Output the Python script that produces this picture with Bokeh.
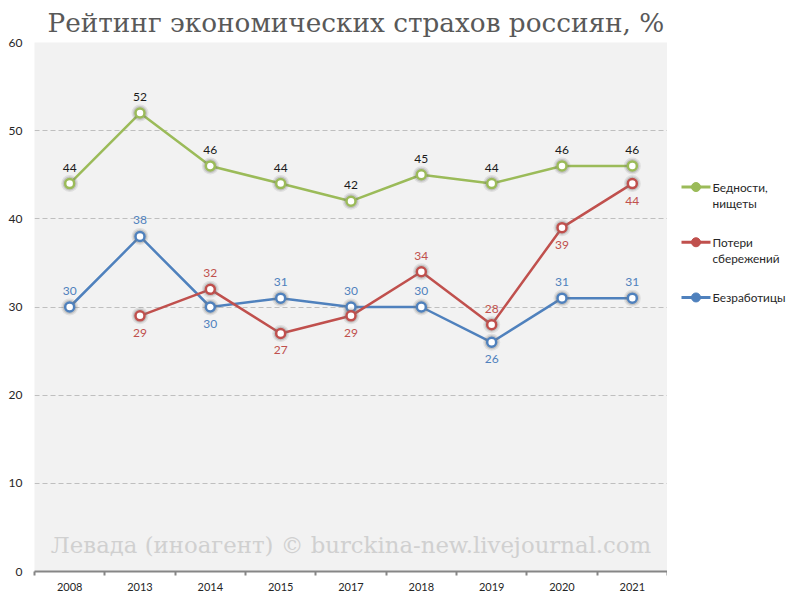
import numpy as np
from bokeh.plotting import figure
from bokeh.models import Range1d, FixedTicker, Label, ColumnDataSource, LabelSet, CustomJSTickFormatter
from bokeh.layouts import row
from bokeh.embed import file_html
from bokeh.resources import INLINE
from bokeh.core.properties import value

# ---- data ----
years = ["2008", "2013", "2014", "2015", "2017", "2018", "2019", "2020", "2021"]
poverty = [44, 52, 46, 44, 42, 45, 44, 46, 46]
savings = [None, 29, 32, 27, 29, 34, 28, 39, 44]
unemployment = [30, 38, 30, 31, 30, 30, 26, 31, 31]
series_names = ["Бедности,\nнищеты", "Потери\nсбережений", "Безработицы"]
y_ticks = [0, 10, 20, 30, 40, 50, 60]
title_text = "Рейтинг экономических страхов россиян, %"
watermark_text = "Левада (иноагент) © burckina-new.livejournal.com"

# where each value label sits relative to its point
poverty_side = ["above"] * 9
savings_side = [None, "below", "above", "below", "below", "above", "above", "below", "below"]
unemployment_side = ["above", "above", "below", "above", "above", "above", "below", "above", "above"]

colors = ["#9bbb59", "#c0504d", "#4f81bd"]
label_colors = ["#1a1a1a", "#c0504d", "#4f81bd"]

n = len(years)
xs = np.arange(n) + 0.5

H = 593
p = figure(width=667, height=H, x_range=Range1d(0, n), y_range=Range1d(0, 60),
           output_backend="svg", toolbar_location=None,
           min_border_left=34, min_border_right=0, min_border_bottom=0, min_border_top=0)
p.background_fill_color = "#f2f2f2"
p.border_fill_color = "white"
p.outline_line_color = None

p.title.text = title_text
p.title.text_font = "DejaVu Serif"
p.title.text_font_size = "26.3px"
p.title.text_font_style = "normal"
p.title.text_color = "#595959"
p.title.align = "left"
p.title.offset = 13
p.title.standoff = 10

# x axis
xa = p.xaxis[0]
xa.ticker = FixedTicker(ticks=list(xs), minor_ticks=list(range(n + 1)))
xa.formatter = CustomJSTickFormatter(args=dict(labels=years),
                                     code="const i = Math.floor(tick); return (i >= 0 && i < labels.length) ? labels[i] : '';")
xa.major_tick_line_color = None
xa.major_tick_in = 0
xa.major_tick_out = 0
xa.minor_tick_line_color = "#868686"
xa.minor_tick_line_width = 2
xa.minor_tick_in = 0
xa.minor_tick_out = 4
xa.axis_line_color = "#868686"
xa.axis_line_width = 2
xa.major_label_text_font = "Lato"
xa.major_label_text_font_size = "11px"
xa.major_label_text_color = "#262626"
xa.major_label_standoff = 7

# y axis
ya = p.yaxis[0]
ya.ticker = FixedTicker(ticks=y_ticks)
ya.axis_line_color = None
ya.major_tick_line_color = None
ya.major_tick_in = 0
ya.major_tick_out = 0
ya.minor_tick_line_color = None
ya.major_label_text_font = "Lato"
ya.major_label_text_font_size = "12px"
ya.major_label_text_color = "#262626"
ya.major_label_standoff = 12

p.xgrid.visible = False
p.ygrid.ticker = FixedTicker(ticks=y_ticks[1:])
p.ygrid.grid_line_color = "#bfbfbf"
p.ygrid.grid_line_dash = "5 3"
p.ygrid.grid_line_width = 1

wm = Label(x=n / 2, y=3, text=watermark_text, text_font="DejaVu Serif", text_font_size="22.8px",
           text_color="#d0d0d0", text_align="center", text_baseline="middle")
p.add_layout(wm)

all_series = [poverty, savings, unemployment]
all_sides = [poverty_side, savings_side, unemployment_side]

# draw order: unemployment first, savings on top of it, poverty last
order = [2, 1, 0]
for i in order:
    vals, col = all_series[i], colors[i]
    v = np.array([np.nan if a is None else a for a in vals], dtype=float)
    mask = ~np.isnan(v)
    p.line(xs, v, line_color=col, line_width=2.5)
    p.scatter(xs[mask], v[mask], size=17, fill_color="#7f7f7f", fill_alpha=0.16, line_color=None)
    p.scatter(xs[mask], v[mask], size=14, fill_color="#6f6f6f", fill_alpha=0.25, line_color=None)
    p.scatter(xs[mask], v[mask], size=9, fill_color="white", line_color=col, line_width=2.5)

for vals, lcol, sides in zip(all_series, label_colors, all_sides):
    v = np.array([np.nan if a is None else a for a in vals], dtype=float)
    mask = ~np.isnan(v)
    offs = [(16 if s == "above" else -17) for s, m in zip(sides, mask) if m]
    src = ColumnDataSource(dict(x=xs[mask], y=v[mask], t=[str(int(a)) for a in v[mask]], off=offs))
    ls = LabelSet(x="x", y="y", text="t", y_offset="off", source=src, text_align="center",
                  text_baseline="middle", text_font=value("Lato"), text_font_size="12px",
                  text_color=lcol)
    p.add_layout(ls)

# ---- legend panel (its frame is aligned with the main plot frame, so use pixel-like ranges) ----
leg = figure(width=132, height=H, x_range=Range1d(0, 132), y_range=Range1d(571, 44),
             output_backend="svg", toolbar_location=None, min_border=0)
leg.axis.visible = False
leg.grid.visible = False
leg.outline_line_color = None
leg.background_fill_color = "white"
leg.border_fill_color = "white"

entry_y = [188, 243, 298]
for name, col, ey in zip(series_names, colors, entry_y):
    leg.line([14, 43], [ey, ey], line_color=col, line_width=3)
    leg.scatter([28.5], [ey], size=9, fill_color=col, line_color=col)
    lines = name.split("\n")
    leg.text([45] * len(lines), [ey + 16 * i for i in range(len(lines))], text=lines,
             text_font=value("Lato"), text_font_size="11.8px", text_color="#262626",
             text_align="left", text_baseline="middle")

layout = row(p, leg)
open("out.html", "w").write(file_html(layout, INLINE))
